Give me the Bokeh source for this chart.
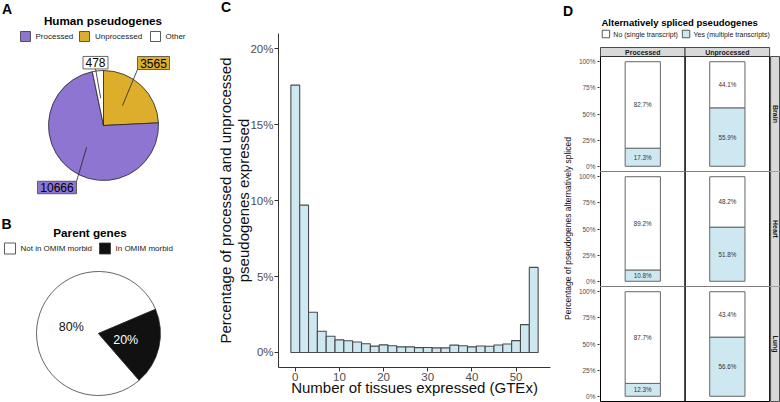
import math
from bokeh.plotting import figure
from bokeh.layouts import row, column
from bokeh.models import Range1d, FixedTicker, NumeralTickFormatter, Div
from bokeh.core.properties import value
from bokeh.embed import file_html
from bokeh.resources import INLINE

FONT = "Liberation Sans"

# ---------------- data ----------------
# Panel A: human pseudogenes
pseudo_types = ["Processed", "Unprocessed", "Other"]
pseudo_counts = [10666, 3565, 478]
pseudo_colors = ["#8e75d2", "#dcae2c", "#ffffff"]
pie_a_clockwise_order = ["Unprocessed", "Processed", "Other"]

# Panel B: parent genes
parent_groups = ["Not in OMIM morbid", "In OMIM morbid"]
parent_pct = [80, 20]
parent_colors = ["#ffffff", "#111111"]
parent_text_colors = ["#111111", "#ffffff"]

# Panel C: histogram (bins of width 2 starting at -1)
hist_bin_start = list(range(-1, 55, 2))
hist_pct = [17.6, 9.7, 2.65, 1.40, 1.07, 0.83, 0.77, 0.69, 0.57, 0.42,
            0.50, 0.44, 0.37, 0.37, 0.32, 0.33, 0.30, 0.30, 0.48, 0.44,
            0.37, 0.43, 0.41, 0.49, 0.56, 0.78, 1.83, 5.6]
hist_ticks_x = [0, 10, 20, 30, 40, 50]
hist_ticks_y = [0, 0.05, 0.10, 0.15, 0.20]

# Panel D: alternatively spliced pseudogenes
tissues = ["Brain", "Heart", "Lung"]
d_types = ["Processed", "Unprocessed"]
brain_yes = [17.3, 55.9]
brain_no = [82.7, 44.1]
heart_yes = [10.8, 51.8]
heart_no = [89.2, 48.2]
lung_yes = [12.3, 56.6]
lung_no = [87.7, 43.4]
d_yes = [brain_yes, heart_yes, lung_yes]
d_no = [brain_no, heart_no, lung_no]
d_ticks_y = [0, 0.25, 0.5, 0.75, 1.0]

BLUE = "#cde8f0"


def Y(y):
    return -y


def pix_fig(w, h, x0, y0, border_left=0):
    p = figure(width=w, height=h, x_range=Range1d(x0 + border_left, x0 + w), y_range=Range1d(-(y0 + h), -y0),
               x_axis_type=None, y_axis_type=None, output_backend="svg", toolbar_location=None,
               min_border=0, min_border_left=border_left, outline_line_color=None)
    return p


def txt(p, x, y, t, size, color="#111111", bold=False, align="left", angle=0.0):
    p.text(x=x, y=y, text=t, text_font=value(FONT), text_font_size=size,
           text_font_style="bold" if bold else "normal", text_color=color,
           text_align=align, text_baseline="middle", angle=angle)


# ---------------- Panel A ----------------
pA = pix_fig(190, 197, 0, 0)
txt(pA, [1.5], [Y(8)], ["A"], "14px", "black", True)
txt(pA, [102.5], [Y(20)], ["Human pseudogenes"], "11.7px", "black", True, "center")
pA.rect(x=[25, 84, 155], y=[Y(36)] * 3, width=10, height=10, fill_color=pseudo_colors, line_color="#333333", line_width=0.8)
txt(pA, [35, 94.5, 165], [Y(36)] * 3, pseudo_types, "8px", "#222222")

cxA, cyA, RA = 103, Y(125), 55
totalA = sum(pseudo_counts)
label_box = {"Processed": (56.5, 187, 39, 12.5), "Unprocessed": (153, 62.5, 32, 13), "Other": (95, 62.2, 25, 12.5)}
label_start = {"Processed": (76, 181), "Unprocessed": (137, 69), "Other": (95, 68)}
cum = 0.0
anchors = {}
for name in pie_a_clockwise_order:
    i = pseudo_types.index(name)
    frac = pseudo_counts[i] / totalA
    a_end = math.pi / 2 - 2 * math.pi * cum
    a_start = math.pi / 2 - 2 * math.pi * (cum + frac)
    pA.wedge(x=[cxA], y=[cyA], radius=RA, start_angle=a_start, end_angle=a_end,
             fill_color=pseudo_colors[i], line_color="#222222", line_width=0.8)
    mid = (a_start + a_end) / 2
    anchors[name] = (cxA + 0.5 * RA * math.cos(mid), cyA + 0.5 * RA * math.sin(mid))
    cum += frac
for name in pseudo_types:
    i = pseudo_types.index(name)
    sx, sy = label_start[name]
    ax_, ay_ = anchors[name]
    pA.segment(x0=[sx], y0=[Y(sy)], x1=[ax_], y1=[ay_], line_color="#222222", line_width=0.8)
    bx, by, bw, bh = label_box[name]
    pA.rect(x=[bx], y=[Y(by)], width=bw, height=bh, fill_color=pseudo_colors[i], line_color="#444444", line_width=0.8)
    txt(pA, [bx], [Y(by)], [str(pseudo_counts[i])], "12px", "black", False, "center")

# ---------------- Panel B ----------------
pB = pix_fig(190, 205, 0, 197)
txt(pB, [1.0], [Y(223)], ["B"], "14px", "black", True)
txt(pB, [89.5], [Y(232)], ["Parent genes"], "11.7px", "black", True, "center")
pB.rect(x=[9.5, 104.5], y=[Y(248)] * 2, width=11, height=11, fill_color=parent_colors, line_color="#333333", line_width=0.8)
txt(pB, [20, 115], [Y(248)] * 2, parent_groups, "8px", "#222222")

cxB, cyB, RB = 98, Y(333), 62
a0 = math.radians(23)
cum = 0.0
for i, g in enumerate(parent_groups):
    frac = parent_pct[i] / sum(parent_pct)
    s = a0 + 2 * math.pi * cum
    e = a0 + 2 * math.pi * (cum + frac)
    pB.wedge(x=[cxB], y=[cyB], radius=RB, start_angle=s, end_angle=e,
             fill_color=parent_colors[i], line_color="#222222", line_width=0.7)
    mid = (s + e) / 2
    txt(pB, [cxB + 0.45 * RB * math.cos(mid)], [cyB + 0.45 * RB * math.sin(mid)],
        ["%d%%" % parent_pct[i]], "12.5px", parent_text_colors[i], False, "center")
    cum += frac

# ---------------- Panel C ----------------
cDiv = Div(text="C", width=40, height=20, margin=(0, 0, 0, 31),
           styles={"font-family": FONT, "font-weight": "bold", "font-size": "14px",
                   "line-height": "14px", "color": "black", "padding": "0px"})
pC = figure(width=365, height=382, x_range=Range1d(-3.8, 57.8), y_range=Range1d(-0.0099, 0.21),
            output_backend="svg", toolbar_location=None, min_border_left=88, min_border_right=5,
            min_border_top=13, min_border_bottom=35, outline_line_color=None)
pC.quad(left=hist_bin_start, right=[b + 2 for b in hist_bin_start], bottom=0,
        top=[v / 100 for v in hist_pct], fill_color=BLUE, line_color="#4a4a4a", line_width=1.1)
pC.grid.visible = False
pC.xaxis.ticker = FixedTicker(ticks=hist_ticks_x)
pC.yaxis.ticker = FixedTicker(ticks=hist_ticks_y)
pC.yaxis.formatter = NumeralTickFormatter(format="0%")
pC.xaxis.axis_label = "Number of tissues expressed (GTEx)"
pC.yaxis.axis_label = "Percentage of processed and unprocessed\npseudogenes expressed"
for ax in pC.axis:
    ax.minor_tick_line_color = None
    ax.major_tick_in = 0
    ax.major_tick_out = 4
    ax.major_tick_line_color = "#333333"
    ax.axis_line_color = "#333333"
    ax.major_label_text_font = FONT
    ax.major_label_text_font_size = "11.5px"
    ax.major_label_text_color = "#4d4d4d"
    ax.axis_label_text_font = FONT
    ax.axis_label_text_font_size = "15px"
    ax.axis_label_text_font_style = "normal"
    ax.axis_label_text_color = "#111111"
    ax.major_label_standoff = 1
pC.xaxis.axis_label_standoff = -5
pC.yaxis.axis_label_standoff = -5
pC.yaxis.axis_label_text_line_height = 1.1

# ---------------- Panel D ----------------
kx = 171 / 2.4
ky = 115 / 1.1
gap = 1 / kx
strip_w = 9 / kx
x_lo = -1 / kx
x_hi = 2.4 + gap + strip_w + 1 / kx
BL = 22  # left border of D rows (tick labels)

pDl = pix_fig(20, 402, 555, 0)
txt(pDl, [562.5], [Y(10.5)], ["D"], "14px", "black", True)
txt(pDl, [567], [Y(228)], ["Percentage of pseudogenes alternatively spliced"], "8.5px", "#111111", False, "center", math.pi / 2)

pDh = pix_fig(205, 46, 575, 0, border_left=BL)
txt(pDh, [599], [Y(22)], ["Alternatively spliced pseudogenes"], "9.5px", "black", True)
pDh.rect(x=[603.5, 684.5], y=[Y(33.5)] * 2, width=7.5, height=7.5, fill_color=["#ffffff", BLUE], line_color="#333333", line_width=0.8)
txt(pDh, [611, 692], [Y(33.8)] * 2, ["No (single transcript)", "Yes (multiple transcripts)"], "7px", "#222222")

d_rows = []
row_cfg = [(125, -0.05, 1.05 + 10 / ky, True), (115, -0.05, 1.05, False), (116, -0.05 - 1 / ky, 1.05, False)]
for r, tissue in enumerate(tissues):
    h, ylo, yhi, top_strip = row_cfg[r]
    p = figure(width=205, height=h, x_range=Range1d(x_lo, x_hi), y_range=Range1d(ylo, yhi),
               x_axis_type=None, output_backend="svg", toolbar_location=None,
               min_border_left=BL, min_border_right=0, min_border_top=0, min_border_bottom=0,
               outline_line_color=None)
    p.grid.visible = False
    xs = [0.6 + 1.2 * i for i in range(len(d_types))]
    yes = [v / 100 for v in d_yes[r]]
    no = [v / 100 for v in d_no[r]]
    p.vbar(x=xs, width=0.5, bottom=0, top=yes, fill_color=BLUE, line_color="#666666", line_width=1)
    p.vbar(x=xs, width=0.5, bottom=yes, top=[a + b for a, b in zip(yes, no)], fill_color="#ffffff", line_color="#666666", line_width=1)
    txt(p, xs, [v / 2 for v in yes], ["%.1f%%" % v for v in d_yes[r]], "6.3px", "#333333", False, "center")
    txt(p, xs, [a + b / 2 for a, b in zip(yes, no)], ["%.1f%%" % v for v in d_no[r]], "6.3px", "#333333", False, "center")
    p.quad(left=[0, 1.2], right=[1.2, 2.4], bottom=-0.05, top=1.05, fill_color=None, line_color="black", line_width=1)
    p.quad(left=[2.4 + gap], right=[2.4 + gap + strip_w], bottom=-0.05, top=1.05,
           fill_color="#d9d9d9", line_color="#222222", line_width=0.8)
    txt(p, [2.4 + gap + strip_w / 2], [0.5], [tissue], "7px", "#1a1a1a", True, "center", -math.pi / 2)
    if top_strip:
        p.quad(left=[0, 1.2], right=[1.2, 2.4], bottom=1.05, top=1.05 + 9 / ky,
               fill_color="#d9d9d9", line_color="#222222", line_width=0.8)
        txt(p, xs, [1.05 + 4.5 / ky] * 2, d_types, "7px", "#1a1a1a", True, "center")
    ax = p.yaxis[0]
    ax.ticker = FixedTicker(ticks=d_ticks_y)
    ax.formatter = NumeralTickFormatter(format="0%")
    ax.minor_tick_line_color = None
    ax.major_tick_in = 0
    ax.major_tick_out = 2
    ax.major_tick_line_color = "#333333"
    ax.axis_line_color = None
    ax.major_label_text_font = FONT
    ax.major_label_text_font_size = "6.5px"
    ax.major_label_text_color = "#4d4d4d"
    ax.major_label_standoff = 2
    d_rows.append(p)

layout_root = row(column(pA, pB), column(cDiv, pC), column(pDl), column(pDh, *d_rows))
try:
    from bokeh.models import GlobalInlineStyleSheet
    layout_root.stylesheets = [GlobalInlineStyleSheet(css="html, body {margin:0 !important; padding:0; overflow:hidden;}")]
except Exception:
    layout_root.styles = {"margin-left": "-8px", "margin-top": "-8px"}

open("out.html", "w").write(file_html(layout_root, INLINE))
